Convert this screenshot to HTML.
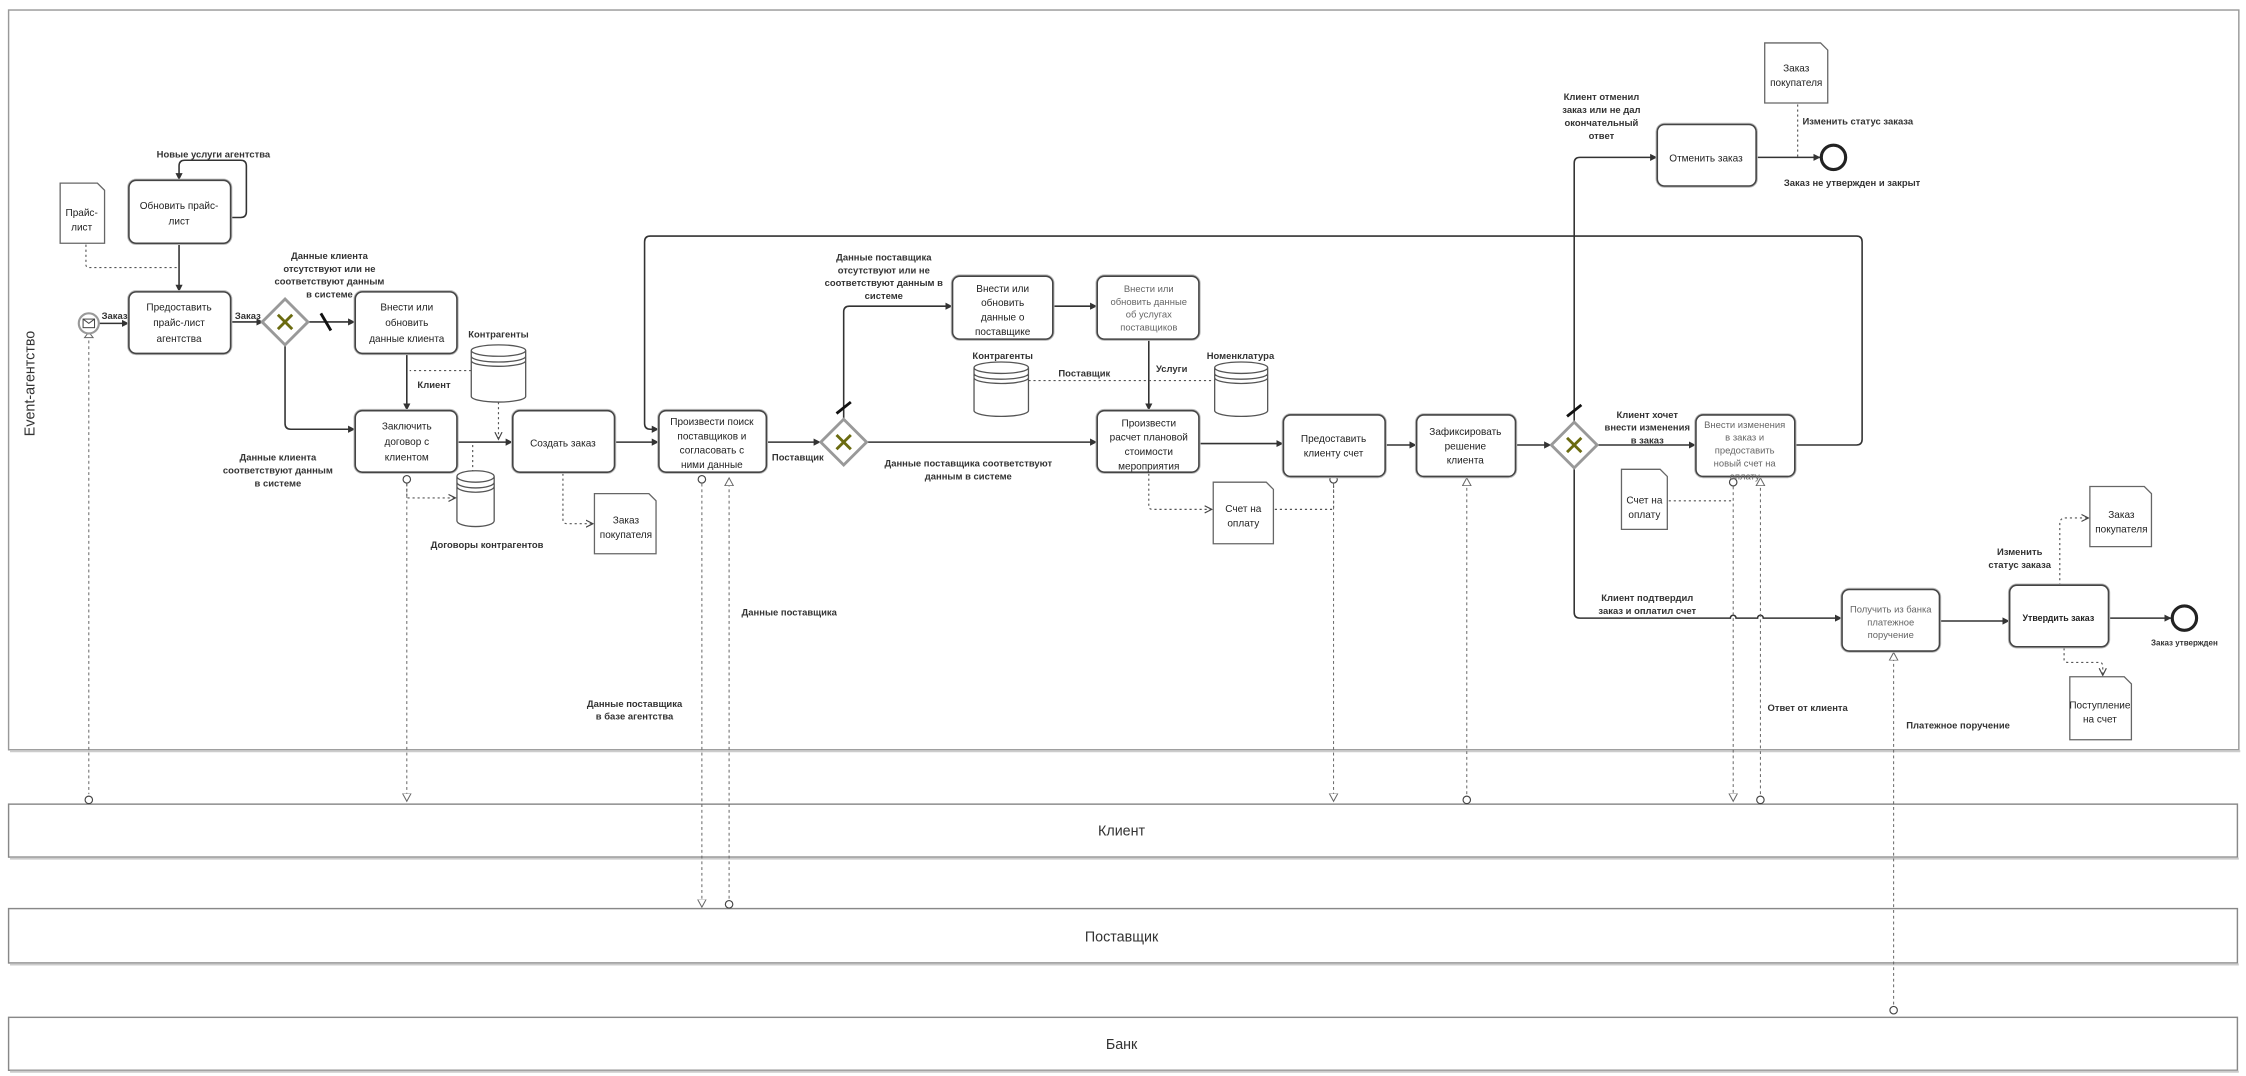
<!DOCTYPE html>
<html><head><meta charset="utf-8"><style>
html,body{margin:0;padding:0;background:#fff;}
svg{display:block;}
text{font-family:"Liberation Sans Narrow","Liberation Sans",sans-serif;fill:#222;}
.t{font-size:7px;text-anchor:middle;}
.lb{font-size:6.6px;text-anchor:middle;font-weight:bold;fill:#333;}
.lt{font-size:6.6px;text-anchor:middle;fill:#666;}
.task{fill:#fff;stroke:#444;stroke-width:1.1;}
.sh{fill:none;stroke:#bbb;stroke-width:2.4;}
.sf{fill:none;stroke:#333;stroke-width:1.1;}
.dot{fill:none;stroke:#555;stroke-width:0.8;stroke-dasharray:1.5,2;}
.msg{fill:none;stroke:#666;stroke-width:0.7;stroke-dasharray:2,2;}
.doc{fill:#fff;stroke:#666;stroke-width:0.9;}
</style></head><body>
<svg width="2246" height="1076" viewBox="0 0 1568 752" preserveAspectRatio="none" xmlns="http://www.w3.org/2000/svg">
<defs>
<marker id="a" markerWidth="6" markerHeight="6" refX="5" refY="3" orient="auto" markerUnits="userSpaceOnUse"><path d="M0,0.5 L5,3 L0,5.5 Z" fill="#333"/></marker>
<marker id="o" markerWidth="6" markerHeight="6" refX="5" refY="3" orient="auto" markerUnits="userSpaceOnUse"><path d="M0,0.5 L5,3 L0,5.5" fill="none" stroke="#444" stroke-width="0.8"/></marker>
<marker id="tri" markerWidth="7" markerHeight="7" refX="5.5" refY="3.5" orient="auto" markerUnits="userSpaceOnUse"><path d="M0,0.5 L5.5,3.5 L0,6.5 Z" fill="#fff" stroke="#666" stroke-width="0.7"/></marker>
</defs>

<rect x="6" y="7" width="1557" height="517" fill="#fff" stroke="#999" stroke-width="1"/>
<line x1="7" y1="525" x2="1564" y2="525" stroke="#ccc" stroke-width="1.5"/>
<text x="24" y="268" transform="rotate(-90 24 268)" style="font-size:10px;text-anchor:middle;fill:#333;font-family:'Liberation Sans',sans-serif">Event-агентство</text>

<rect x="6" y="562" width="1556" height="37" fill="#fff" stroke="#888" stroke-width="1"/>
<line x1="7" y1="600" x2="1563" y2="600" stroke="#ccc" stroke-width="1.5"/>
<text x="783" y="584" style="font-size:10px;text-anchor:middle;fill:#333">Клиент</text>
<rect x="6" y="635" width="1556" height="38" fill="#fff" stroke="#888" stroke-width="1"/>
<line x1="7" y1="674" x2="1563" y2="674" stroke="#ccc" stroke-width="1.5"/>
<text x="783" y="658" style="font-size:10px;text-anchor:middle;fill:#333">Поставщик</text>
<rect x="6" y="711" width="1556" height="37" fill="#fff" stroke="#888" stroke-width="1"/>
<line x1="7" y1="749" x2="1563" y2="749" stroke="#ccc" stroke-width="1.5"/>
<text x="783" y="733" style="font-size:10px;text-anchor:middle;fill:#333">Банк</text>

<g class="sf">
<path d="M69,226 H90" marker-end="url(#a)"/>
<path d="M161,152 H168 Q172,152 172,148 V116 Q172,112 168,112 H129 Q125,112 125,116 V126" marker-end="url(#a)"/>
<path d="M125,170 V204" marker-end="url(#a)"/>
<path d="M161,225 H184" marker-end="url(#a)"/>
<path d="M215,225 H248" marker-end="url(#a)"/>
<path d="M199,241 V296 Q199,300 203,300 H248" marker-end="url(#a)"/>
<path d="M284,247 V287" marker-end="url(#a)"/>
<path d="M319,309 H358" marker-end="url(#a)"/>
<path d="M429,309 H460" marker-end="url(#a)"/>
<path d="M535,309 H573" marker-end="url(#a)"/>
<path d="M589,293 V218 Q589,214 593,214 H665" marker-end="url(#a)"/>
<path d="M605,309 H766" marker-end="url(#a)"/>
<path d="M735,214 H766" marker-end="url(#a)"/>
<path d="M802,237 V287" marker-end="url(#a)"/>
<path d="M837,310 H896" marker-end="url(#a)"/>
<path d="M967,311 H989" marker-end="url(#a)"/>
<path d="M1058,311 H1083" marker-end="url(#a)"/>
<path d="M1115,311 H1184" marker-end="url(#a)"/>
<path d="M1099,295 V114 Q1099,110 1103,110 H1157" marker-end="url(#a)"/>
<path d="M1099,327 V428 Q1099,432 1103,432 H1208 a2,2 0 0 1 4,0 H1227 a2,2 0 0 1 4,0 H1286" marker-end="url(#a)"/>
<path d="M1226,110 H1271" marker-end="url(#a)"/>
<path d="M1354,434 H1403" marker-end="url(#a)"/>
<path d="M1472,432 H1516" marker-end="url(#a)"/>
<path d="M1253,311 H1296 Q1300,311 1300,307 V169 Q1300,165 1296,165 H454 Q450,165 450,169 V296 Q450,300 454,300 H460" marker-end="url(#a)"/>
</g>
<line x1="224" y1="219" x2="231" y2="231" stroke="#111" stroke-width="2"/>
<line x1="584" y1="289" x2="594" y2="281" stroke="#111" stroke-width="2"/>
<line x1="1094" y1="291" x2="1104" y2="283" stroke="#111" stroke-width="2"/>

<g class="dot">
<path d="M60,171 V185 Q60,187 62,187 H124"/>
<path d="M329,259 H286"/>
<path d="M348,281 V307" marker-end="url(#o)"/>
<path d="M330,311 V330"/>
<path d="M284,338 V348 H318" marker-end="url(#o)"/>
<path d="M393,331 V363 Q393,366 396,366 H414" marker-end="url(#o)"/>
<path d="M718,266 H848"/>
<path d="M802,331 V354 Q802,356 805,356 H846" marker-end="url(#o)"/>
<path d="M890,356 H931 V338"/>
<path d="M1165,350 H1210"/>
<path d="M1255,73 V110"/>
<path d="M1438,409 V366 Q1438,362 1442,362 H1458" marker-end="url(#o)"/>
<path d="M1441,453 V461 Q1441,463 1444,463 H1466 Q1468,463 1468,466 V472" marker-end="url(#o)"/>
</g>

<g class="msg">
<path d="M62,238 V555"/>
<path d="M284,338 V560" marker-end="url(#tri)"/>
<path d="M490,338 V634" marker-end="url(#tri)"/>
<path d="M509,628 V334" marker-end="url(#tri)"/>
<path d="M931,338 V560" marker-end="url(#tri)"/>
<path d="M1024,555 V334" marker-end="url(#tri)"/>
<path d="M1210,340 V560" marker-end="url(#tri)"/>
<path d="M1229,555 V334" marker-end="url(#tri)"/>
<path d="M1322,702 V456" marker-end="url(#tri)"/>
</g>
<g fill="#fff" stroke="#444" stroke-width="0.8">
<circle cx="62" cy="559" r="2.6"/><circle cx="284" cy="335" r="2.6"/><circle cx="490" cy="335" r="2.6"/>
<circle cx="509" cy="632" r="2.6"/><circle cx="931" cy="335" r="2.6"/><circle cx="1024" cy="559" r="2.6"/>
<circle cx="1210" cy="337" r="2.6"/><circle cx="1229" cy="559" r="2.6"/><circle cx="1322" cy="706" r="2.6"/>
</g>
<path d="M59,236 L62,232 L65,236 Z" fill="#fff" stroke="#666" stroke-width="0.7"/>

<g>
<rect class="sh" x="90" y="126" width="71" height="44" rx="5"/><rect class="task" x="90" y="126" width="71" height="44" rx="5"/>
<rect class="sh" x="90" y="204" width="71" height="43" rx="5"/><rect class="task" x="90" y="204" width="71" height="43" rx="5"/>
<rect class="sh" x="248" y="204" width="71" height="43" rx="5"/><rect class="task" x="248" y="204" width="71" height="43" rx="5"/>
<rect class="sh" x="248" y="287" width="71" height="43" rx="5"/><rect class="task" x="248" y="287" width="71" height="43" rx="5"/>
<rect class="sh" x="358" y="287" width="71" height="43" rx="5"/><rect class="task" x="358" y="287" width="71" height="43" rx="5"/>
<rect class="sh" x="460" y="287" width="75" height="43" rx="5"/><rect class="task" x="460" y="287" width="75" height="43" rx="5"/>
<rect class="sh" x="665" y="193" width="70" height="44" rx="5"/><rect class="task" x="665" y="193" width="70" height="44" rx="5"/>
<rect class="sh" x="766" y="193" width="71" height="44" rx="5"/><rect class="task" x="766" y="193" width="71" height="44" rx="5"/>
<rect class="sh" x="766" y="287" width="71" height="43" rx="5"/><rect class="task" x="766" y="287" width="71" height="43" rx="5"/>
<rect class="sh" x="896" y="290" width="71" height="43" rx="5"/><rect class="task" x="896" y="290" width="71" height="43" rx="5"/>
<rect class="sh" x="989" y="290" width="69" height="43" rx="5"/><rect class="task" x="989" y="290" width="69" height="43" rx="5"/>
<rect class="sh" x="1184" y="290" width="69" height="43" rx="5"/><rect class="task" x="1184" y="290" width="69" height="43" rx="5"/>
<rect class="sh" x="1157" y="87" width="69" height="43" rx="5"/><rect class="task" x="1157" y="87" width="69" height="43" rx="5"/>
<rect class="sh" x="1286" y="412" width="68" height="43" rx="5"/><rect class="task" x="1286" y="412" width="68" height="43" rx="5"/>
<rect class="sh" x="1403" y="409" width="69" height="43" rx="5"/><rect class="task" x="1403" y="409" width="69" height="43" rx="5"/>
</g>
<text class="t"><tspan x="125" y="146">Обновить прайс-</tspan><tspan x="125" y="157">лист</tspan></text>
<text class="t"><tspan x="125" y="217">Предоставить</tspan><tspan x="125" y="228">прайс-лист</tspan><tspan x="125" y="239">агентства</tspan></text>
<text class="t"><tspan x="284" y="217">Внести или</tspan><tspan x="284" y="228">обновить</tspan><tspan x="284" y="239">данные клиента</tspan></text>
<text class="t"><tspan x="284" y="300">Заключить</tspan><tspan x="284" y="311">договор с</tspan><tspan x="284" y="322">клиентом</tspan></text>
<text class="t"><tspan x="393" y="312">Создать заказ</tspan></text>
<text class="t"><tspan x="497" y="297">Произвести поиск</tspan><tspan x="497" y="307">поставщиков и</tspan><tspan x="497" y="317">согласовать с</tspan><tspan x="497" y="327">ними данные</tspan></text>
<text class="t"><tspan x="700" y="204">Внести или</tspan><tspan x="700" y="214">обновить</tspan><tspan x="700" y="224">данные о</tspan><tspan x="700" y="234">поставщике</tspan></text>
<text class="lt"><tspan x="802" y="204">Внести или</tspan><tspan x="802" y="213">обновить данные</tspan><tspan x="802" y="222">об услугах</tspan><tspan x="802" y="231">поставщиков</tspan></text>
<text class="t"><tspan x="802" y="298">Произвести</tspan><tspan x="802" y="308">расчет плановой</tspan><tspan x="802" y="318">стоимости</tspan><tspan x="802" y="328">мероприятия</tspan></text>
<text class="t"><tspan x="931" y="309">Предоставить</tspan><tspan x="931" y="319">клиенту счет</tspan></text>
<text class="t"><tspan x="1023" y="304">Зафиксировать</tspan><tspan x="1023" y="314">решение</tspan><tspan x="1023" y="324">клиента</tspan></text>
<text class="lt"><tspan x="1218" y="299">Внести изменения</tspan><tspan x="1218" y="308">в заказ и</tspan><tspan x="1218" y="317">предоставить</tspan><tspan x="1218" y="326">новый счет на</tspan><tspan x="1218" y="335">оплату</tspan></text>
<text class="t"><tspan x="1191" y="113">Отменить заказ</tspan></text>
<text class="lt"><tspan x="1320" y="428">Получить из банка</tspan><tspan x="1320" y="437">платежное</tspan><tspan x="1320" y="446">поручение</tspan></text>
<text class="t" style="font-weight:bold;font-size:6.2px"><tspan x="1437" y="434">Утвердить заказ</tspan></text>

<g>
<path d="M199,209 L215,225 L199,241 L183,225 Z" fill="#fff" stroke="#999" stroke-width="2"/>
<path d="M589,293 L605,309 L589,325 L573,309 Z" fill="#fff" stroke="#999" stroke-width="2"/>
<path d="M1099,295 L1115,311 L1099,327 L1083,311 Z" fill="#fff" stroke="#999" stroke-width="2"/>
<g stroke="#6b6b10" stroke-width="2"><path d="M194,220 L204,230 M204,220 L194,230"/><path d="M584,304 L594,314 M594,304 L584,314"/><path d="M1094,306 L1104,316 M1104,306 L1094,316"/></g>
</g>

<circle cx="62" cy="226" r="7" fill="#fff" stroke="#999" stroke-width="1.5"/>
<rect x="58" y="223" width="8" height="6" fill="#fff" stroke="#444" stroke-width="0.7"/><path d="M58,223 L62,226 L66,223" fill="none" stroke="#444" stroke-width="0.7"/>
<circle cx="1280" cy="110" r="8.5" fill="#fff" stroke="#222" stroke-width="2.2"/>
<circle cx="1525" cy="432" r="8.5" fill="#fff" stroke="#222" stroke-width="2.2"/>

<g class="doc">
<path d="M42,128 H68 L73,133 V170 H42 Z"/>
<path d="M415,345 H453 L458,350 V387 H415 Z"/>
<path d="M847,337 H884 L889,342 V380 H847 Z"/>
<path d="M1132,328 H1159 L1164,333 V370 H1132 Z"/>
<path d="M1232,30 H1271 L1276,35 V72 H1232 Z"/>
<path d="M1459,340 H1497 L1502,345 V382 H1459 Z"/>
<path d="M1445,473 H1483 L1488,478 V517 H1445 Z"/>
</g>
<text class="t"><tspan x="57" y="151">Прайс-</tspan><tspan x="57" y="161">лист</tspan></text>
<text class="t"><tspan x="437" y="366">Заказ</tspan><tspan x="437" y="376">покупателя</tspan></text>
<text class="t"><tspan x="868" y="358">Счет на</tspan><tspan x="868" y="368">оплату</tspan></text>
<text class="t"><tspan x="1148" y="352">Счет на</tspan><tspan x="1148" y="362">оплату</tspan></text>
<text class="t"><tspan x="1254" y="50">Заказ</tspan><tspan x="1254" y="60">покупателя</tspan></text>
<text class="t"><tspan x="1481" y="362">Заказ</tspan><tspan x="1481" y="372">покупателя</tspan></text>
<text class="t"><tspan x="1466" y="495">Поступление</tspan><tspan x="1466" y="505">на счет</tspan></text>

<g fill="#fff" stroke="#555" stroke-width="0.9">
<path d="M329,245 V277 A19,4 0 0 0 367,277 V245 A19,4 0 0 0 329,245 A19,4 0 0 0 367,245 M329,249 A19,4 0 0 0 367,249 M329,252 A19,4 0 0 0 367,252"/>
<path d="M319,333 V364 A13,4 0 0 0 345,364 V333 A13,4 0 0 0 319,333 A13,4 0 0 0 345,333 M319,337 A13,4 0 0 0 345,337 M319,340 A13,4 0 0 0 345,340"/>
<path d="M680,257 V287 A19,4 0 0 0 718,287 V257 A19,4 0 0 0 680,257 A19,4 0 0 0 718,257 M680,261 A19,4 0 0 0 718,261 M680,264 A19,4 0 0 0 718,264"/>
<path d="M848,257 V287 A18.5,4 0 0 0 885,287 V257 A18.5,4 0 0 0 848,257 A18.5,4 0 0 0 885,257 M848,261 A18.5,4 0 0 0 885,261 M848,264 A18.5,4 0 0 0 885,264"/>
</g>

<text class="lb"><tspan x="149" y="110">Новые услуги агентства</tspan></text>
<text class="lb"><tspan x="80" y="223">Заказ</tspan></text>
<text class="lb"><tspan x="173" y="223">Заказ</tspan></text>
<text class="lb"><tspan x="230" y="181">Данные клиента</tspan><tspan x="230" y="190">отсутствуют или не</tspan><tspan x="230" y="199">соответствуют данным</tspan><tspan x="230" y="208">в системе</tspan></text>
<text class="lb"><tspan x="194" y="322">Данные клиента</tspan><tspan x="194" y="331">соответствуют данным</tspan><tspan x="194" y="340">в системе</tspan></text>
<text class="lb"><tspan x="348" y="236">Контрагенты</tspan></text>
<text class="lb"><tspan x="303" y="271">Клиент</tspan></text>
<text class="lb"><tspan x="340" y="383">Договоры контрагентов</tspan></text>
<text class="lb"><tspan x="557" y="322">Поставщик</tspan></text>
<text class="lb"><tspan x="617" y="182">Данные поставщика</tspan><tspan x="617" y="191">отсутствуют или не</tspan><tspan x="617" y="200">соответствуют данным в</tspan><tspan x="617" y="209">системе</tspan></text>
<text class="lb"><tspan x="676" y="326">Данные поставщика соответствуют</tspan><tspan x="676" y="335">данным в системе</tspan></text>
<text class="lb"><tspan x="700" y="251">Контрагенты</tspan></text>
<text class="lb"><tspan x="757" y="263">Поставщик</tspan></text>
<text class="lb"><tspan x="866" y="251">Номенклатура</tspan></text>
<text class="lb"><tspan x="818" y="260">Услуги</tspan></text>
<text class="lb"><tspan x="551" y="430">Данные поставщика</tspan></text>
<text class="lb"><tspan x="443" y="494">Данные поставщика</tspan><tspan x="443" y="503">в базе агентства</tspan></text>
<text class="lb"><tspan x="1118" y="70">Клиент отменил</tspan><tspan x="1118" y="79">заказ или не дал</tspan><tspan x="1118" y="88">окончательный</tspan><tspan x="1118" y="97">ответ</tspan></text>
<text class="lb"><tspan x="1297" y="87">Изменить статус заказа</tspan></text>
<text class="lb"><tspan x="1293" y="130">Заказ не утвержден и закрыт</tspan></text>
<text class="lb"><tspan x="1150" y="292">Клиент хочет</tspan><tspan x="1150" y="301">внести изменения</tspan><tspan x="1150" y="310">в заказ</tspan></text>
<text class="lb"><tspan x="1150" y="420">Клиент подтвердил</tspan><tspan x="1150" y="429">заказ и оплатил счет</tspan></text>
<text class="lb"><tspan x="1262" y="497">Ответ от клиента</tspan></text>
<text class="lb"><tspan x="1367" y="509">Платежное поручение</tspan></text>
<text class="lb"><tspan x="1410" y="388">Изменить</tspan><tspan x="1410" y="397">статус заказа</tspan></text>
<text class="lb" style="font-size:5.6px"><tspan x="1525" y="451">Заказ утвержден</tspan></text>
</svg>
</body></html>
